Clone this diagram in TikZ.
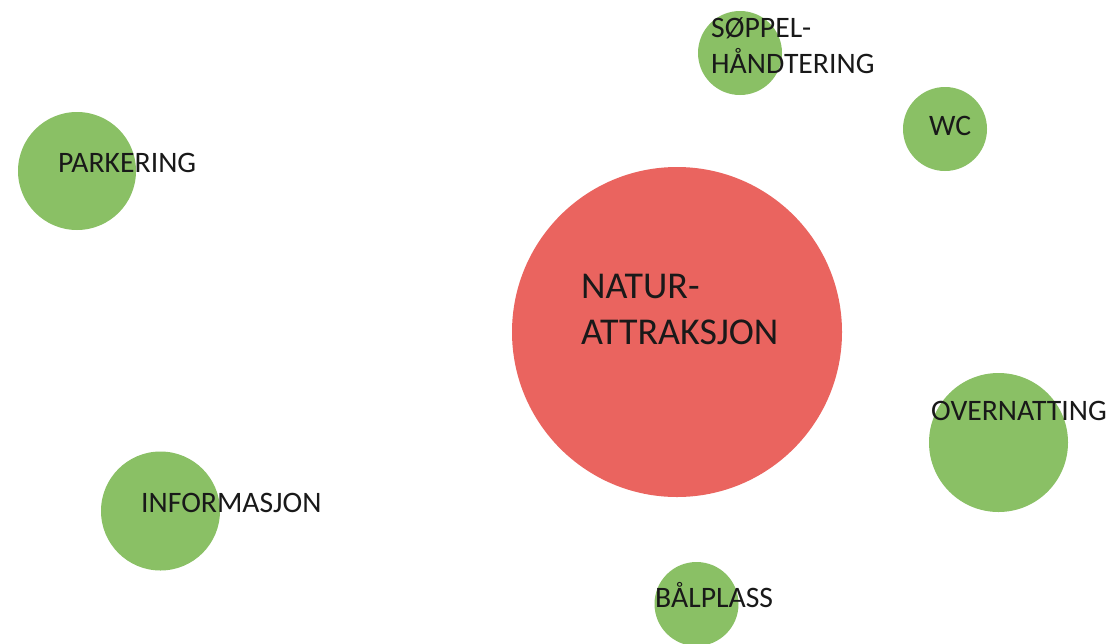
\documentclass[tikz,border=0pt]{standalone}
\usepackage{fontspec}
\setmainfont{Carlito}
\definecolor{dotgreen}{HTML}{8AC065}
\definecolor{dotred}{HTML}{EA645F}
\tikzset{
  dot/.style={circle, fill=dotgreen, draw=none, inner sep=0pt, minimum size=#1},
  bigdot/.style={circle, fill=dotred, draw=none, inner sep=0pt, minimum size=#1},
  lbl/.style={anchor=base west, inner sep=0pt, font=\fontsize{29.7}{36}\selectfont, text=black!90, align=left},
  biglbl/.style={anchor=base west, inner sep=0pt, font=\fontsize{37.9}{46}\selectfont, text=black!90, align=left}
}
\begin{document}
\begin{tikzpicture}[x=1pt,y=-1pt]
\useasboundingbox (0,0) rectangle (1118,643);
\fill[white] (0,0) rectangle (1118,643);
% circles
\node[bigdot=330pt] (nat) at (677,332) {};
\node[dot=84pt] (sop) at (740,53) {};
\node[dot=84pt] (wc) at (945,129) {};
\node[dot=118pt] (park) at (77,171) {};
\node[dot=139pt] (over) at (998.5,442.5) {};
\node[dot=119pt] (info) at (160.5,511) {};
\node[dot=84pt] (bal) at (696.5,604) {};
% labels
\node[biglbl] (natl) at (581,298) {NATUR-};
\node[biglbl] (natl2) at (581,344) {ATTRAKSJON};
\node[lbl] (sopl) at (711,37) {SØPPEL-};
\node[lbl] (sopl2) at (711,73) {HÅNDTERING};
\node[lbl] (wcl) at (929,135) {WC};
\node[lbl] (parkl) at (58,172) {PARKERING};
\node[lbl] (overl) at (931,420) {OVERNATTING};
\node[lbl] (infol) at (141,512) {INFORMASJON};
\node[lbl] (ball) at (655,607) {BÅLPLASS};
\end{tikzpicture}
\end{document}
